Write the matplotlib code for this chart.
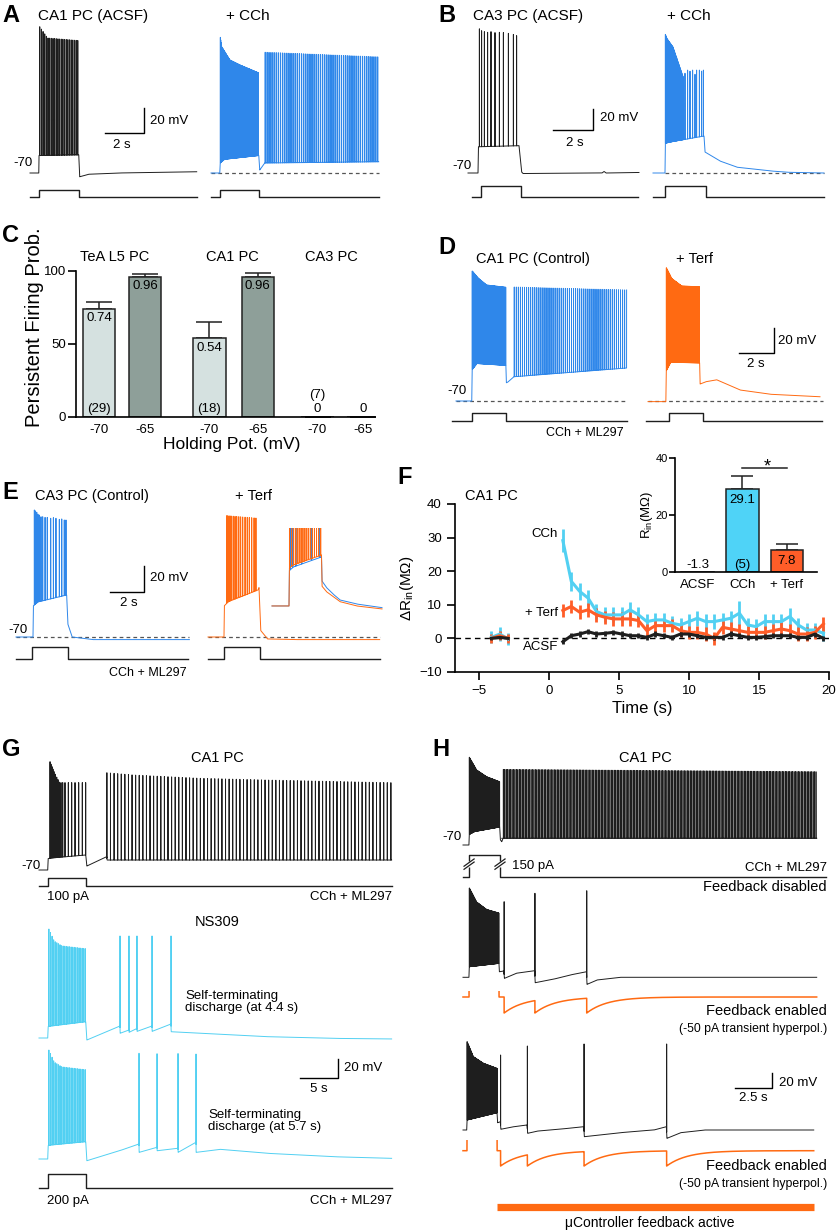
import numpy as np
import matplotlib
matplotlib.use("Agg")
import matplotlib.pyplot as plt

plt.rcParams["font.family"] = ["Liberation Sans", "DejaVu Sans"]
plt.rcParams["axes.linewidth"] = 1.2

W, H = 837, 1231

BLACK = "#1e1e1e"
BLUE = "#2f87ea"
ORANGE = "#ff6a12"
CYAN = "#52d0f2"
BAR_CYAN = "#4fd3f7"
BAR_ORANGE = "#ff5d28"
LIGHT = "#d5e1e0"
DARK = "#8e9f99"
DASH = "#555555"

# ---------------- data (time in s, voltage in mV) ----------------
# A: CA1 PC, ACSF vs CCh
A1_env_t = [0, 0.45, 0.46, 0.6, 2.5, 2.55, 3.0, 4.5, 8.55]
A1_env_v = [-70, -70, -56, -56, -55.5, -73, -71, -70, -69]
A1_train = [0.5, 2.45, 24]
A1_pk_t = [0.5, 0.9, 2.45]
A1_pk_v = [47, 38, 36]
A2_env_t = [0, 0.45, 0.47, 0.7, 2.45, 2.5, 2.75, 8.6]
A2_env_v = [-70, -70, -62, -59, -56, -67.6, -62, -61]
A2_train_step = [0.48, 2.43, 100]
A2_pk_step_t = [0.47, 0.55, 0.97, 1.49, 2.43]
A2_pk_step_v = [39.6, 31, 20.4, 16.4, 10.2]
A2_train_pers = [2.78, 8.55, 60]
A2_pk_pers_t = [2.78, 8.55]
A2_pk_pers_v = [26.6, 22.9]
A_cmd1 = [0, 0.46, 2.51, 8.56]
A_cmd2 = [0, 0.46, 2.46, 8.6]

# B: CA3 PC, ACSF vs CCh
B1_env_t = [0, 0.5, 0.52, 2.55, 2.68, 2.75, 6.7, 6.8, 6.9, 8.55]
B1_env_v = [-70, -70, -45, -44, -69, -70.5, -70, -68.5, -70, -69.5]
B1_spk = [0.57, 0.68, 0.82, 0.98, 1.15, 1.35, 1.57, 1.77, 2.02, 2.27, 2.43]
B1_pk = [67.3, 65.5, 64.6, 64, 64.6, 63.7, 64, 63.7, 63, 62, 60.8]
B2_env_t = [0, 0.6, 0.62, 1.0, 2.55, 2.6, 3.35, 4.2, 5.0, 5.85, 6.7, 8.55]
B2_env_v = [-70, -70, -41.6, -40, -34.8, -50, -58.6, -64.5, -66.2, -68, -69.3, -70]
B2_train = [0.62, 1.5, 45]
B2_pk_t = [0.62, 0.7, 1.0, 1.5]
B2_pk_v = [62, 58, 50, 22]
B2_spk = [1.6, 1.73, 1.85, 1.98, 2.1, 2.18, 2.32, 2.43, 2.52]
B2_pk = [25, 28, 27, 28, 24, 28, 28, 27, 28]
B_cmd1 = [0.2, 0.65, 2.65, 8.5]
B_cmd2 = [0, 0.6, 2.65, 8.55]

# C: persistent firing probability
C_groups = ["TeA L5 PC", "CA1 PC", "CA3 PC"]
C_hold = ["-70", "-65", "-70", "-65", "-70", "-65"]
C_mean = [74, 96, 54, 96, 0, 0]
C_sem = [4.5, 1.8, 11, 2.5, 0, 0]
C_text = ["0.74", "0.96", "0.54", "0.96", "0", "0"]
C_n = ["(29)", "", "(18)", "", "(7)", ""]

# D: CA1 PC control vs terfenadine
D1_env_t = [0, 0.9, 0.92, 1.2, 2.85, 2.88, 2.95, 3.3, 9.75]
D1_env_v = [-70, -70, -45, -40, -41.5, -55.4, -55, -50.6, -43.6]
D1_train_step = [0.93, 2.84, 80]
D1_pk_step_t = [0.93, 1.28, 1.75, 2.84]
D1_pk_step_v = [34, 28.2, 22.8, 21]
D1_train_pers = [3.33, 9.75, 56]
D1_pk_pers_t = [3.33, 9.75]
D1_pk_pers_v = [21.2, 18.8]
D2_env_t = [0, 1.02, 1.04, 1.3, 2.95, 2.98, 3.3, 3.92, 5.26, 6.97, 9.83]
D2_env_v = [-70.5, -70.5, -46, -39, -39.5, -56.4, -54.6, -53, -61.2, -64.6, -66.6]
D2_train = [1.05, 2.93, 80]
D2_pk_t = [1.05, 1.36, 1.93, 2.93]
D2_pk_v = [36.6, 28, 22, 21.4]
D_cmd1 = [-0.2, 0.91, 2.86, 9.77]
D_cmd2 = [-0.1, 1.22, 3.16, 9.94]

# E: CA3 PC control vs terfenadine
E1_env_t = [0, 1.0, 1.02, 1.3, 2.98, 3.05, 3.3, 4.5, 6, 10.2]
E1_env_v = [-70, -70, -46, -43, -37.7, -60, -70, -72, -72, -72]
E1_spk = [1.08, 1.14, 1.22, 1.29, 1.37, 1.47, 1.57, 1.71, 1.84, 2.04, 2.2, 2.35, 2.55, 2.69, 2.84, 2.94]
E1_pk = [27.7, 27, 26, 24.5, 23.8, 22.5, 22.5, 22, 22, 21.3, 21.8, 21.3, 20.5, 20.8, 20, 20]
E2_env_t = [0, 0.94, 0.96, 1.2, 2.95, 3.0, 3.1, 3.5, 5, 10.1]
E2_env_v = [-70, -70, -46, -42.8, -33.8, -32, -65, -71.5, -72, -72]
E2_spk = [1.1, 1.16, 1.24, 1.31, 1.39, 1.49, 1.59, 1.69, 1.81, 1.92, 2.04, 2.18, 2.31, 2.43, 2.57, 2.71, 2.82]
E2_pk_t = [1.1, 2.82]
E2_pk_v = [23.3, 21.5]
EI_blue_t = [0, 1.03, 1.05, 1.3, 3.0, 3.03, 3.3, 3.7, 4.12, 5.13, 6.67]
EI_blue_v = [-69.2, -69.2, -42, -39.2, -31.5, -50, -55, -60, -64.6, -67.7, -70.5]
EI_blue_spk = [1.1, 1.25, 1.45, 1.8, 2.4, 2.9]
EI_or_t = [0, 1.03, 1.05, 1.3, 3.0, 3.03, 3.3, 4.12, 5.13, 6.67]
EI_or_v = [-69.2, -69.2, -40, -37.7, -30, -54, -58.2, -65.9, -69.2, -71.5]
EI_or_train = [1.06, 2.95, 16]
EI_pk = 20
E_cmd1 = [0, 0.94, 3.06, 10.1]
E_cmd2 = [0, 0.94, 3.06, 10.1]

# F: input resistance change
F_pre_t = [-4.1, -3.5, -2.9]
F_pre_cch = [0.3, 1.3, -0.2]
F_pre_cch_err = [1.8, 2.0, 1.8]
F_pre_terf = [0.0, 0.8, 0.0]
F_pre_terf_err = [1.4, 1.4, 1.4]
F_pre_acsf = [0.0, 0.3, 0.0]
F_pre_acsf_err = [0.5, 0.5, 0.5]
F_t = [1.0, 1.6, 2.2, 2.8, 3.4, 4.0, 4.6, 5.2, 5.8, 6.4, 7.0, 7.6, 8.2, 8.8, 9.4, 10.0,
       10.6, 11.2, 11.8, 12.4, 13.0, 13.6, 14.2, 14.8, 15.4, 16.0, 16.6, 17.2, 17.8, 18.4, 19.0, 19.6]
F_cch = [29.1, 17, 14, 12, 8, 7, 7, 7, 8.5, 7, 5, 5.5, 5.5, 4.5, 4, 5,
         6, 5, 5, 5.5, 6, 7.5, 4, 3.5, 5, 5, 5, 6.5, 4, 2.5, 2.5, 1.5]
F_cch_err = [3.5, 2.8, 2.5, 2.5, 2.2, 2.2, 2.2, 2.2, 2.2, 2.2, 2.2, 2.2, 2.2, 2.2, 2.2, 2.2,
             2.2, 2.2, 2.2, 2.2, 2.2, 3.5, 2.2, 2.2, 2.2, 2.2, 2.2, 2.5, 2.2, 2.2, 2.2, 2.2]
F_terf = [8.3, 9.5, 7.8, 8.5, 7, 6.3, 5.8, 5.8, 5.8, 5.3, 2.3, 3.8, 3.8, 3.8, 2.3, 1.8,
          1.8, 1.3, 0, 3.3, 2.8, 2.3, 1.8, 1.8, 1.8, 2.3, 2.8, 2.3, 1.3, 1.3, 1.8, 4.3]
F_terf_err = [2.0] * 32
F_acsf = [-1, 0.8, 1.3, 2, 1.3, 1.5, 1.8, 1.3, 0.8, 0.8, 0.3, 1.3, 0.8, 0.3, 1.3, 1.3,
          0.8, 0.3, 0.3, 0.3, 1.3, 0.8, 0.3, 0.3, 0.5, 0.8, 0.8, 0.8, 0.3, 0.3, 1.3, 0]
F_acsf_err = [0.8] * 32
F_bar_names = ["ACSF", "CCh", "+ Terf"]
F_bar_vals = [-1.3, 29.1, 7.8]
F_bar_err = [0, 4.6, 2.0]
F_bar_n = ["", "(5)", ""]

# G: CA1 PC, NS309
G1_env_t = [0, 1.15, 1.2, 1.6, 6.15, 6.3, 8.9, 8.96, 46.4]
G1_env_v = [-70, -70, -58, -57.4, -54.2, -65.8, -56, -59.5, -59.5]
G1_spk_step = [1.45, 1.58, 1.71, 1.84, 1.97, 2.14, 2.33, 2.5, 2.67, 2.89, 3.12, 3.42,
               3.86, 4.3, 4.74, 5.22, 5.7, 6.14]
G1_pk_step_t = [1.45, 2.0, 2.7, 6.14]
G1_pk_step_v = [44, 33, 22, 22]
G1_train_pers = [8.93, 46.3, 80]
G1_pk_pers_t = [8.9, 12.4, 21.2, 30, 46.2]
G1_pk_pers_v = [32.4, 30, 26.5, 24.7, 21.9]
G2_env_t = [0, 1.15, 1.2, 1.6, 6.15, 6.3, 10.65, 10.68, 11.83, 11.86, 12.88, 12.91,
            14.86, 14.89, 17.36, 17.39, 21.2, 30, 38.7, 46.4]
G2_env_v = [-70, -70, -58, -57.4, -52.9, -72.1, -57.4, -65, -61.6, -64, -60, -63,
            -57.4, -63, -55.3, -63.4, -65, -68.6, -70.4, -71]
G2_spk_post = [10.66, 11.84, 12.89, 14.87, 17.37]
G2_pk_post = [37.4, 37.4, 37.4, 37.4, 37.4]
G3_env_t = [0, 1.15, 1.2, 1.6, 6.15, 6.3, 10.6, 13.15, 13.18, 15.52, 15.55, 18.28,
            18.31, 20.65, 20.68, 23.8, 30, 38.7, 46.4]
G3_env_v = [-70, -70, -56, -55.3, -51.8, -71.8, -61.3, -54.2, -63, -57.7, -61.3, -58.7,
            -63, -52.4, -63, -59.8, -64, -67.6, -69.3]
G3_spk_post = [13.16, 15.53, 18.29, 20.66]
G3_pk_post = [41.3, 40.8, 41, 40.5]
G_train_step = [1.3, 6.1, 24]
G_pk_step_t = [1.3, 2.0, 3.0, 6.1]
G_pk_step_v = [44.7, 32, 27, 24]
G_cmd = [0, 1.18, 6.18, 46.4]

# H: CA1 PC, closed-loop feedback
H1_env_t = [0, 0.4, 0.42, 0.8, 2.48, 2.52, 2.62, 2.7, 23.9]
H1_env_v = [-70, -70, -56, -52, -46, -63, -65.6, -61, -61]
H1_train_step = [0.43, 2.47, 80]
H1_pk_step_t = [0.43, 0.92, 1.6, 2.47]
H1_pk_step_v = [47, 30, 21, 14.4]
H1_train_pers = [2.72, 23.85, 215]
H1_pk_pers_t = [2.72, 23.85]
H1_pk_pers_v = [30.9, 27.8]
H1_cmd = [0, 0.41, 2.5, 24.5]
H2_env_t = [0, 0.4, 0.42, 2.43, 2.46, 2.76, 2.8, 3.6, 4.84, 4.88, 6.1, 7.24, 8.34,
            8.38, 9.05, 10.6, 23.9]
H2_env_v = [-70.4, -70.4, -56.3, -51.8, -63, -62, -71.8, -65, -61.6, -77.6, -73, -67.3,
            -63, -79.8, -74, -70.4, -70.4]
H2_train_step = [0.43, 2.42, 80]
H2_pk_step_t = [0.43, 0.92, 1.6, 2.42]
H2_pk_step_v = [48.7, 30, 20, 15.3]
H2_spk_post = [2.78, 4.86, 8.36]
H2_pk_post = [30.4, 41.6, 45]
H2_cmd = [0, 0.41, 2.43, 23.9]
H3_env_t = [0, 0.25, 0.27, 2.3, 2.34, 2.52, 2.56, 3.3, 4.33, 4.37, 5.0, 6.5, 8.16,
            8.2, 10.6, 12.9, 13.74, 13.78, 14.7, 16.3, 23.7]
H3_env_v = [-70, -70, -56.7, -47, -60.3, -59, -69, -66, -63.3, -74.4, -71.5, -69, -65.6,
            -78.9, -73.6, -70, -65.6, -81.1, -73.6, -70, -70]
H3_train_step = [0.28, 2.3, 80]
H3_pk_step_t = [0.28, 0.7, 1.38, 2.3]
H3_pk_step_v = [47.8, 27.8, 19, 12.2]
H3_spk_post = [2.54, 4.35, 8.18, 13.76]
H3_pk_post = [30, 42, 44.7, 44.7]
H3_cmd = [0, 0.27, 2.3, 23.7]
FB_amp = -50      # pA
FB_tau = 1.4      # s
FB_active = [2.3, 23.7]

# ---------------- helpers ----------------
fig = plt.figure(figsize=(W / 100, H / 100), dpi=100)


def px_axes(l, t, r, b):
    return fig.add_axes([l / W, 1 - b / H, (r - l) / W, (b - t) / H])


def trace_axes(box, x0, sx, yb, sy):
    l, t, r, b = box
    ax = px_axes(l, t, r, b)
    ax.set_xlim((l - x0) / sx, (r - x0) / sx)
    ax.set_ylim(-70 + (yb - b) / sy, -70 + (yb - t) / sy)
    ax.axis("off")
    return ax


def cmd_axes(l, r, y_lo, y_hi, x0, sx, pad=3):
    ax = px_axes(l - pad, y_hi - pad, r + pad, y_lo + pad)
    ax.set_xlim((l - pad - x0) / sx, (r + pad - x0) / sx)
    span = float(y_lo - y_hi)
    ax.set_ylim(-pad / span, 1 + pad / span)
    ax.axis("off")
    return ax


def to_data(ax, px, py):
    return ax.transData.inverted().transform((px, H - py))


def train(spec):
    return np.linspace(spec[0], spec[1], int(spec[2]))


def draw_trace(ax, env_t, env_v, trains, color, lw=0.7, dt=0.002):
    t = np.arange(env_t[0], env_t[-1], dt)
    v = np.interp(t, env_t, env_v)
    for spk, pk_t, pk_v in trains:
        spk = np.asarray(spk, float)
        pk = np.interp(spk, pk_t, pk_v)
        idx = np.clip(np.searchsorted(t, spk), 0, len(t) - 1)
        v[idx] = pk
    ax.plot(t, v, color=color, lw=lw)


def draw_cmd(ax, tt, color=BLACK, lw=1.0):
    t0, on, off, end = tt
    ax.plot([t0, on, on, off, off, end], [0, 0, 1, 1, 0, 0], color=color, lw=lw)


def dashed(ax, t0, t1):
    ax.plot([t0, t1], [-70, -70], color=DASH, lw=0.9, dashes=(3, 2.5))


def scalebar(ax, px, py, dt, dv):
    cx, cy = to_data(ax, px, py)
    ax.plot([cx - dt, cx, cx], [cy, cy, cy + dv], color="k", lw=1.0, clip_on=False)


def txt(x, y, s, size=9.5, ha="left", **kw):
    fig.text(x / W, 1 - y / H, s, fontsize=size, ha=ha, va="center", **kw)


def letter(x, y, s):
    txt(x, y, s, size=17, weight="bold")


def fb_current(t, tt, spikes, amp, tau):
    cur = np.where((t >= tt[1]) & (t < tt[2]), 150.0, 0.0)
    last = np.full_like(t, np.nan)
    for s in spikes:
        last[t >= s] = s
    m = ~np.isnan(last)
    cur[m] = amp * np.exp(-(t[m] - last[m]) / tau)
    return cur


# ---------------- A ----------------
letter(2, 16, "A")
txt(38, 16, "CA1 PC (ACSF)", 11)
txt(226, 16, "+ CCh", 11)
ax = trace_axes((26, 20, 200, 182), 30, 19.5, 173, 1.25)
draw_trace(ax, A1_env_t, A1_env_v, [(train(A1_train), A1_pk_t, A1_pk_v)], BLACK)
scalebar(ax, 144, 133, 2, 20)
txt(150, 121, "20 mV", 9.5)
txt(122, 145, "2 s", 9.5, ha="center")
txt(33, 163, "-70", 9.5, ha="right")
draw_cmd(cmd_axes(30, 197, 197, 190, 30, 19.5), A_cmd1)
ax = trace_axes((208, 28, 382, 182), 211, 19.5, 173, 1.25)
dashed(ax, 0, 8.6)
draw_trace(ax, A2_env_t, A2_env_v,
           [(train(A2_train_step), A2_pk_step_t, A2_pk_step_v),
            (train(A2_train_pers), A2_pk_pers_t, A2_pk_pers_v)], BLUE)
draw_cmd(cmd_axes(211, 379, 197, 190, 211, 19.5), A_cmd2)

# ---------------- B ----------------
letter(438, 16, "B")
txt(473, 16, "CA3 PC (ACSF)", 11)
txt(667, 16, "+ CCh", 11)
ax = trace_axes((466, 22, 642, 182), 468, 20, 173, 1.05)
draw_trace(ax, B1_env_t, B1_env_v, [(B1_spk, B1_spk, B1_pk)], BLACK)
scalebar(ax, 593, 130, 2, 20)
txt(600, 118, "20 mV", 9.5)
txt(575, 143, "2 s", 9.5, ha="center")
txt(472, 166, "-70", 9.5, ha="right")
draw_cmd(cmd_axes(472, 638, 197, 186, 468, 20), B_cmd1)
ax = trace_axes((650, 26, 826, 182), 653, 20, 173, 1.05)
dashed(ax, 0.6, 8.55)
draw_trace(ax, B2_env_t, B2_env_v,
           [(train(B2_train), B2_pk_t, B2_pk_v), (B2_spk, B2_spk, B2_pk)], BLUE)
draw_cmd(cmd_axes(653, 824, 197, 186, 653, 20), B_cmd2)

# ---------------- C ----------------
letter(2, 235, "C")
axc = px_axes(76, 271, 375, 417)
c_pos = [0, 1, 2.4, 3.45, 4.75, 5.75]
c_col = [LIGHT, DARK] * 3
axc.bar(c_pos, C_mean, width=0.7, color=c_col, edgecolor="#222222", linewidth=1.1, zorder=2)
axc.errorbar(c_pos, C_mean, yerr=[[0] * 6, C_sem], fmt="none", ecolor="#222222",
             elinewidth=1.1, capsize=9.5, capthick=1.1, zorder=1)
for i, p in enumerate(c_pos):
    if C_mean[i] > 0:
        axc.text(p, C_mean[i] - 6.5, C_text[i], ha="center", va="center", fontsize=9.5, zorder=3)
    else:
        axc.text(p, 5.5, C_text[i], ha="center", va="center", fontsize=9.5, zorder=3)
    if C_n[i]:
        axc.text(p, 15 if C_mean[i] == 0 else 5.5, C_n[i], ha="center", va="center",
                 fontsize=9.5, zorder=3)
axc.set_ylim(0, 100)
axc.set_xlim(-0.5, 6.0)
axc.spines[["top", "right"]].set_visible(False)
axc.set_yticks([0, 50, 100])
axc.set_xticks(c_pos, C_hold)
axc.tick_params(axis="x", length=0, pad=5, labelsize=9.5)
axc.tick_params(axis="y", length=6, width=1.2, pad=1, labelsize=9.5)
for name, x in zip(C_groups, [115, 232, 331]):
    txt(x, 257, name, 10.5, ha="center")
txt(232, 445, "Holding Pot. (mV)", 12.5, ha="center")
fig.text(35 / W, 1 - 327 / H, "Persistent Firing Prob.", fontsize=14.5, rotation=90,
         ha="center", va="center")

# ---------------- D ----------------
letter(438, 248, "D")
txt(476, 259, "CA1 PC (Control)", 10.5)
txt(676, 259, "+ Terf", 10.5)
ax = trace_axes((454, 262, 630, 405), 456, 17.5, 401, 1.25)
dashed(ax, 0, 9.8)
draw_trace(ax, D1_env_t, D1_env_v,
           [(train(D1_train_step), D1_pk_step_t, D1_pk_step_v),
            (train(D1_train_pers), D1_pk_pers_t, D1_pk_pers_v)], BLUE)
txt(467, 391, "-70", 9.5, ha="right")
draw_cmd(cmd_axes(453, 627, 421, 413, 456, 17.5), D_cmd1)
txt(624, 433, "CCh + ML297", 9, ha="right")
ax = trace_axes((646, 262, 824, 405), 648, 17.5, 401, 1.25)
dashed(ax, 0, 10.0)
draw_trace(ax, D2_env_t, D2_env_v, [(train(D2_train), D2_pk_t, D2_pk_v)], ORANGE)
scalebar(ax, 774, 353, 2, 20)
txt(778, 341, "20 mV", 9.5)
txt(756, 364, "2 s", 9.5, ha="center")
draw_cmd(cmd_axes(646, 822, 421, 413, 648, 17.5), D_cmd2)

# ---------------- E ----------------
letter(2, 493, "E")
txt(35, 496, "CA3 PC (Control)", 10.5)
txt(235, 496, "+ Terf", 10.5)
ax = trace_axes((14, 505, 192, 642), 16, 17, 637, 1.3)
dashed(ax, 0, 10.2)
draw_trace(ax, E1_env_t, E1_env_v, [(E1_spk, E1_spk, E1_pk)], BLUE)
scalebar(ax, 144, 592, 2, 20)
txt(150, 578, "20 mV", 9.5)
txt(129, 603, "2 s", 9.5, ha="center")
txt(28, 630, "-70", 9.5, ha="right")
draw_cmd(cmd_axes(16, 188, 659, 647, 16, 17), E_cmd1)
txt(187, 673, "CCh + ML297", 9, ha="right")
ax = trace_axes((206, 508, 383, 642), 208, 17, 637, 1.3)
dashed(ax, 0, 10.1)
draw_trace(ax, E2_env_t, E2_env_v, [(E2_spk, E2_pk_t, E2_pk_v)], ORANGE)
draw_cmd(cmd_axes(208, 380, 659, 647, 208, 17), E_cmd2)
ax = trace_axes((270, 528, 384, 613), 272, 16.5, 607, 1.3)
draw_trace(ax, EI_blue_t, EI_blue_v, [(EI_blue_spk, [0, 7], [EI_pk, EI_pk])], BLUE)
draw_trace(ax, EI_or_t, EI_or_v, [(train(EI_or_train), [0, 7], [EI_pk, EI_pk])], ORANGE)

# ---------------- F ----------------
txt(397, 477, "F", 17, weight="bold")
axf = px_axes(455, 504, 829, 672)
axf.axhline(0, color="k", lw=1.0, dashes=(4, 3), zorder=1)
for vals, errs, col in [(F_pre_cch, F_pre_cch_err, CYAN), (F_pre_terf, F_pre_terf_err, BAR_ORANGE),
                        (F_pre_acsf, F_pre_acsf_err, BLACK)]:
    axf.errorbar(F_pre_t, vals, yerr=errs, color=col, lw=2.2, elinewidth=2.0, capsize=0)
for vals, errs, col in [(F_cch, F_cch_err, CYAN), (F_terf, F_terf_err, BAR_ORANGE),
                        (F_acsf, F_acsf_err, BLACK)]:
    axf.errorbar(F_t, vals, yerr=errs, color=col, lw=2.2, elinewidth=2.0, capsize=0)
axf.set_xlim(-6.7, 20)
axf.set_ylim(-10, 40)
axf.spines[["top", "right"]].set_visible(False)
axf.set_xticks([-5, 0, 5, 10, 15, 20])
axf.set_yticks([-10, 0, 10, 20, 30, 40])
axf.tick_params(length=6, width=1.2, labelsize=9.5)
axf.set_xlabel("Time (s)", fontsize=12, labelpad=3)
axf.set_ylabel(r"ΔR$_\mathregular{in}$(MΩ)", fontsize=11, labelpad=2)
txt(465, 496, "CA1 PC", 10.5)
txt(558, 534, "CCh", 9.5, ha="right")
txt(558, 613, "+ Terf", 9.5, ha="right")
txt(558, 647, "ACSF", 9.5, ha="right")

axi = px_axes(675, 458, 817, 572)
axi.bar([0, 1, 2], F_bar_vals, width=0.73, color=["white", BAR_CYAN, BAR_ORANGE],
        edgecolor="#222222", linewidth=1.1, zorder=2)
axi.errorbar([0, 1, 2], F_bar_vals, yerr=[[0, 0, 0], F_bar_err], fmt="none", ecolor="#222222",
             elinewidth=1.1, capsize=8, capthick=1.1, zorder=1)
axi.text(0, 2.6, f"{F_bar_vals[0]}", ha="center", va="center", fontsize=9.5)
axi.text(1, F_bar_vals[1] - 4, f"{F_bar_vals[1]}", ha="center", va="center", fontsize=9.5)
axi.text(1, 2.6, F_bar_n[1], ha="center", va="center", fontsize=9.5)
axi.text(2, 4, f"{F_bar_vals[2]}", ha="center", va="center", fontsize=9.5)
axi.plot([1, 2], [36.5, 36.5], color="#222222", lw=1.1, clip_on=False)
axi.set_ylim(0, 40)
axi.set_xlim(-0.5, 2.67)
axi.spines[["top", "right"]].set_visible(False)
axi.set_yticks([0, 20, 40])
axi.set_xticks([0, 1, 2], F_bar_names)
axi.tick_params(axis="x", length=0, pad=5, labelsize=9.5)
axi.tick_params(axis="y", length=4, width=1.2, pad=1, labelsize=8)
txt(767, 467, "*", 13, ha="center")
fig.text(647 / W, 1 - 515 / H, r"R$_\mathregular{in}$(MΩ)", fontsize=9.5, rotation=90,
         ha="center", va="center")

# ---------------- G ----------------
letter(2, 750, "G")
txt(217, 758, "CA1 PC", 10.5, ha="center")
ax = trace_axes((37, 756, 395, 874), 39, 7.6, 870, 0.95)
draw_trace(ax, G1_env_t, G1_env_v,
           [(G1_spk_step, G1_pk_step_t, G1_pk_step_v),
            (train(G1_train_pers), G1_pk_pers_t, G1_pk_pers_v)], BLACK, dt=0.004)
txt(41, 866, "-70", 9.5, ha="right")
draw_cmd(cmd_axes(39, 392, 886, 878, 39, 7.6), G_cmd)
txt(47, 897, "100 pA", 9.5)
txt(392, 897, "CCh + ML297", 9.5, ha="right")
txt(217, 922, "NS309", 10.5, ha="center")
ax = trace_axes((37, 924, 395, 1042), 39, 7.6, 1038, 0.95)
draw_trace(ax, G2_env_t, G2_env_v,
           [(train(G_train_step), G_pk_step_t, G_pk_step_v),
            (G2_spk_post, G2_spk_post, G2_pk_post)], CYAN, dt=0.004)
txt(185, 1002, "Self-terminating\ndischarge (at 4.4 s)", 9.5, linespacing=1.05)
ax = trace_axes((37, 1045, 395, 1163), 39, 7.6, 1159, 0.95)
draw_trace(ax, G3_env_t, G3_env_v,
           [(train(G_train_step), G_pk_step_t, G_pk_step_v),
            (G3_spk_post, G3_spk_post, G3_pk_post)], CYAN, dt=0.004)
scalebar(ax, 338, 1078, 5, 20)
txt(344, 1068, "20 mV", 9.5)
txt(319, 1089, "5 s", 9.5, ha="center")
txt(208, 1121, "Self-terminating\ndischarge (at 5.7 s)", 9.5, linespacing=1.05)
draw_cmd(cmd_axes(39, 392, 1188, 1174, 39, 7.6), G_cmd)
txt(47, 1201, "200 pA", 9.5)
txt(392, 1201, "CCh + ML297", 9.5, ha="right")

# ---------------- H ----------------
letter(432, 749, "H")
txt(645, 758, "CA1 PC", 10.5, ha="center")
ax = trace_axes((461, 752, 820, 849), 463, 14.8, 845, 0.75)
draw_trace(ax, H1_env_t, H1_env_v,
           [(train(H1_train_step), H1_pk_step_t, H1_pk_step_v)], BLACK)
draw_trace(ax, [2.6, 23.9], [-61, -61],
           [(train(H1_train_pers), H1_pk_pers_t, H1_pk_pers_v)], BLACK, lw=0.55)
txt(462, 837, "-70", 9.5, ha="right")
axh = cmd_axes(463, 826, 877, 855, 463, 14.8)
draw_cmd(axh, H1_cmd)
for te in H1_cmd[1:3]:
    axh.plot([te, te], [0.45, 0.72], color="white", lw=2.5, solid_capstyle="butt")
    for off in (-0.07, 0.07):
        axh.plot([te - 0.34, te + 0.34], [0.42 + off, 0.75 + off], color=BLACK, lw=0.9)
txt(512, 866, "150 pA", 9.5)
txt(827, 868, "CCh + ML297", 9.5, ha="right")
txt(827, 887, "Feedback disabled", 10.5, ha="right")

ax = trace_axes((461, 884, 820, 988), 463, 14.8, 977, 0.75)
draw_trace(ax, H2_env_t, H2_env_v,
           [(train(H2_train_step), H2_pk_step_t, H2_pk_step_v),
            (H2_spk_post, H2_spk_post, H2_pk_post)], BLACK)
axc2 = px_axes(461, 991, 820, 1016)
axc2.set_xlim((461 - 463) / 14.8, (820 - 463) / 14.8)
axc2.set_ylim((997 - 1016) / 0.32, (997 - 991) / 0.32)
axc2.axis("off")
tt = np.arange(H2_cmd[0], H2_cmd[3], 0.002)
axc2.plot(tt, fb_current(tt, H2_cmd, H2_spk_post, FB_amp, FB_tau), color=ORANGE, lw=1.1)
txt(827, 1011, "Feedback enabled", 10.5, ha="right")
txt(827, 1029, "(-50 pA transient hyperpol.)", 8.8, ha="right")

ax = trace_axes((461, 1036, 820, 1142), 463, 14.8, 1130, 0.75)
draw_trace(ax, H3_env_t, H3_env_v,
           [(train(H3_train_step), H3_pk_step_t, H3_pk_step_v),
            (H3_spk_post, H3_spk_post, H3_pk_post)], BLACK)
scalebar(ax, 772, 1088, 2.5, 20)
txt(779, 1083, "20 mV", 9.5)
txt(753, 1098, "2.5 s", 9.5, ha="center")
axc3 = px_axes(461, 1140, 820, 1170)
axc3.set_xlim((461 - 463) / 14.8, (820 - 463) / 14.8)
axc3.set_ylim((1150.7 - 1170) / 0.306, (1150.7 - 1140) / 0.306)
axc3.axis("off")
tt = np.arange(H3_cmd[0], H3_cmd[3], 0.002)
axc3.plot(tt, fb_current(tt, H3_cmd, H3_spk_post, FB_amp, FB_tau), color=ORANGE, lw=1.1)
txt(827, 1166, "Feedback enabled", 10.5, ha="right")
txt(827, 1184, "(-50 pA transient hyperpol.)", 8.8, ha="right")

axb = px_axes(461, 1200, 820, 1214)
axb.set_xlim((461 - 463) / 14.8, (820 - 463) / 14.8)
axb.set_ylim(0, 1)
axb.axis("off")
axb.plot(FB_active, [0.5, 0.5], color=ORANGE, lw=5.2, solid_capstyle="butt")
txt(650, 1223, "μController feedback active", 10, ha="center")

fig.savefig("out.png", dpi=100)
